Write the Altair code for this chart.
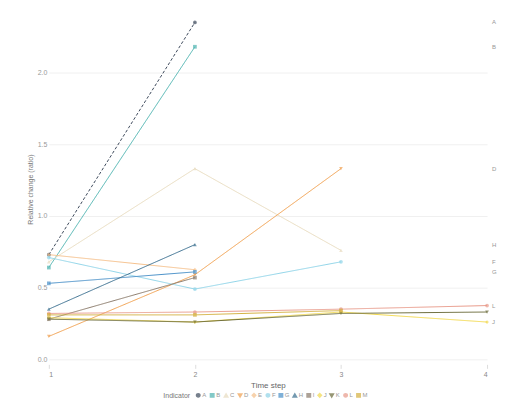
import altair as alt
import pandas as pd

steps = [1, 2, 3, 4]
series = ["A", "B", "C", "D", "E", "F", "G", "H", "I", "J", "K", "L", "M"]
values = {
    "A": [0.73, 2.35],
    "B": [0.64, 2.18],
    "C": [0.68, 1.33, 0.76],
    "D": [0.16, 0.59, 1.33],
    "E": [0.73, 0.625],
    "F": [0.71, 0.49, 0.68],
    "G": [0.53, 0.61],
    "H": [0.35, 0.80],
    "I": [0.28, 0.57],
    "J": [0.29, 0.26, 0.33, 0.26],
    "K": [0.28, 0.26, 0.32, 0.33],
    "L": [0.32, 0.33, 0.35, 0.375],
    "M": [0.31, 0.31, 0.34],
}
colors = ["#3d4a5c", "#4fb3b0", "#e8dcc0", "#f0a050", "#f5c08a", "#8fd4e8",
          "#4a90c8", "#3a6f8f", "#8a7a6a", "#f2d94e", "#6b6b3a", "#e89a8a", "#d4b040"]
shapes = ["circle", "square", "triangle-up", "triangle-down", "diamond", "circle",
          "square", "triangle-up", "square", "diamond", "triangle-down", "circle", "square"]
dashed = ["A"]
labelled = ["A", "B", "D", "H", "F", "G", "L", "J"]
y_ticks = [0.0, 0.5, 1.0, 1.5, 2.0]

rows = []
for s in series:
    for i, v in enumerate(values[s]):
        rows.append({"step": steps[i], "value": v, "indicator": s,
                     "dash": "d" if s in dashed else "s"})
df = pd.DataFrame(rows)

last_rows = []
for s in labelled:
    last_rows.append({"step": steps[-1], "value": values[s][-1], "indicator": s})
df_last = pd.DataFrame(last_rows)

xs = alt.X("step:Q", title="Time step",
           scale=alt.Scale(domain=[1, 4], nice=False),
           axis=alt.Axis(values=steps, format="d", grid=False, domain=False,
                         tickColor="#ddd", tickSize=4, labelFontSize=7,
                         labelColor="#888", titleFontSize=8, titleColor="#666",
                         titleFontWeight="normal", titlePadding=4))
ys = alt.Y("value:Q", title="Relative change (ratio)",
           scale=alt.Scale(domain=[-0.035, 2.41], nice=False, zero=False),
           axis=alt.Axis(values=y_ticks, format=".1f", domain=False, ticks=False,
                         gridColor="#f0f0f0", labelFontSize=7, labelColor="#999",
                         titleFontSize=7, titleColor="#777", titleFontWeight="normal"))
col = alt.Color("indicator:N", title="Indicator",
                scale=alt.Scale(domain=series, range=colors),
                legend=alt.Legend(orient="none", legendX=115, legendY=380,
                                  direction="horizontal",
                                  titleOrient="left", titleFontSize=7,
                                  titleFontWeight="normal", titleColor="#777",
                                  labelFontSize=6, labelColor="#999",
                                  symbolSize=12, columnPadding=0, symbolOffset=0,
                                  labelOffset=1, padding=0))
shp = alt.Shape("indicator:N", scale=alt.Scale(domain=series, range=shapes))

lines = alt.Chart(df).mark_line(strokeWidth=1).encode(
    x=xs, y=ys, color=col, detail="indicator:N",
    strokeDash=alt.StrokeDash("dash:N", scale=alt.Scale(domain=["s", "d"], range=[[1, 0], [3, 2]]),
                              legend=None),
)
points = alt.Chart(df).mark_point(filled=True, size=14).encode(
    x=xs, y=ys, color=col, shape=shp,
)
labels = alt.Chart(df_last).mark_text(align="left", dx=5, fontSize=6, color="#999").encode(
    x=xs, y=ys, text="indicator:N",
)

chart = alt.layer(lines, points, labels).properties(
    width=440, height=352, padding={"left": 18, "right": 0, "top": 5, "bottom": 2}
).configure_view(stroke=None)

chart.save("out.html", embed_options={"renderer": "svg", "actions": False})
